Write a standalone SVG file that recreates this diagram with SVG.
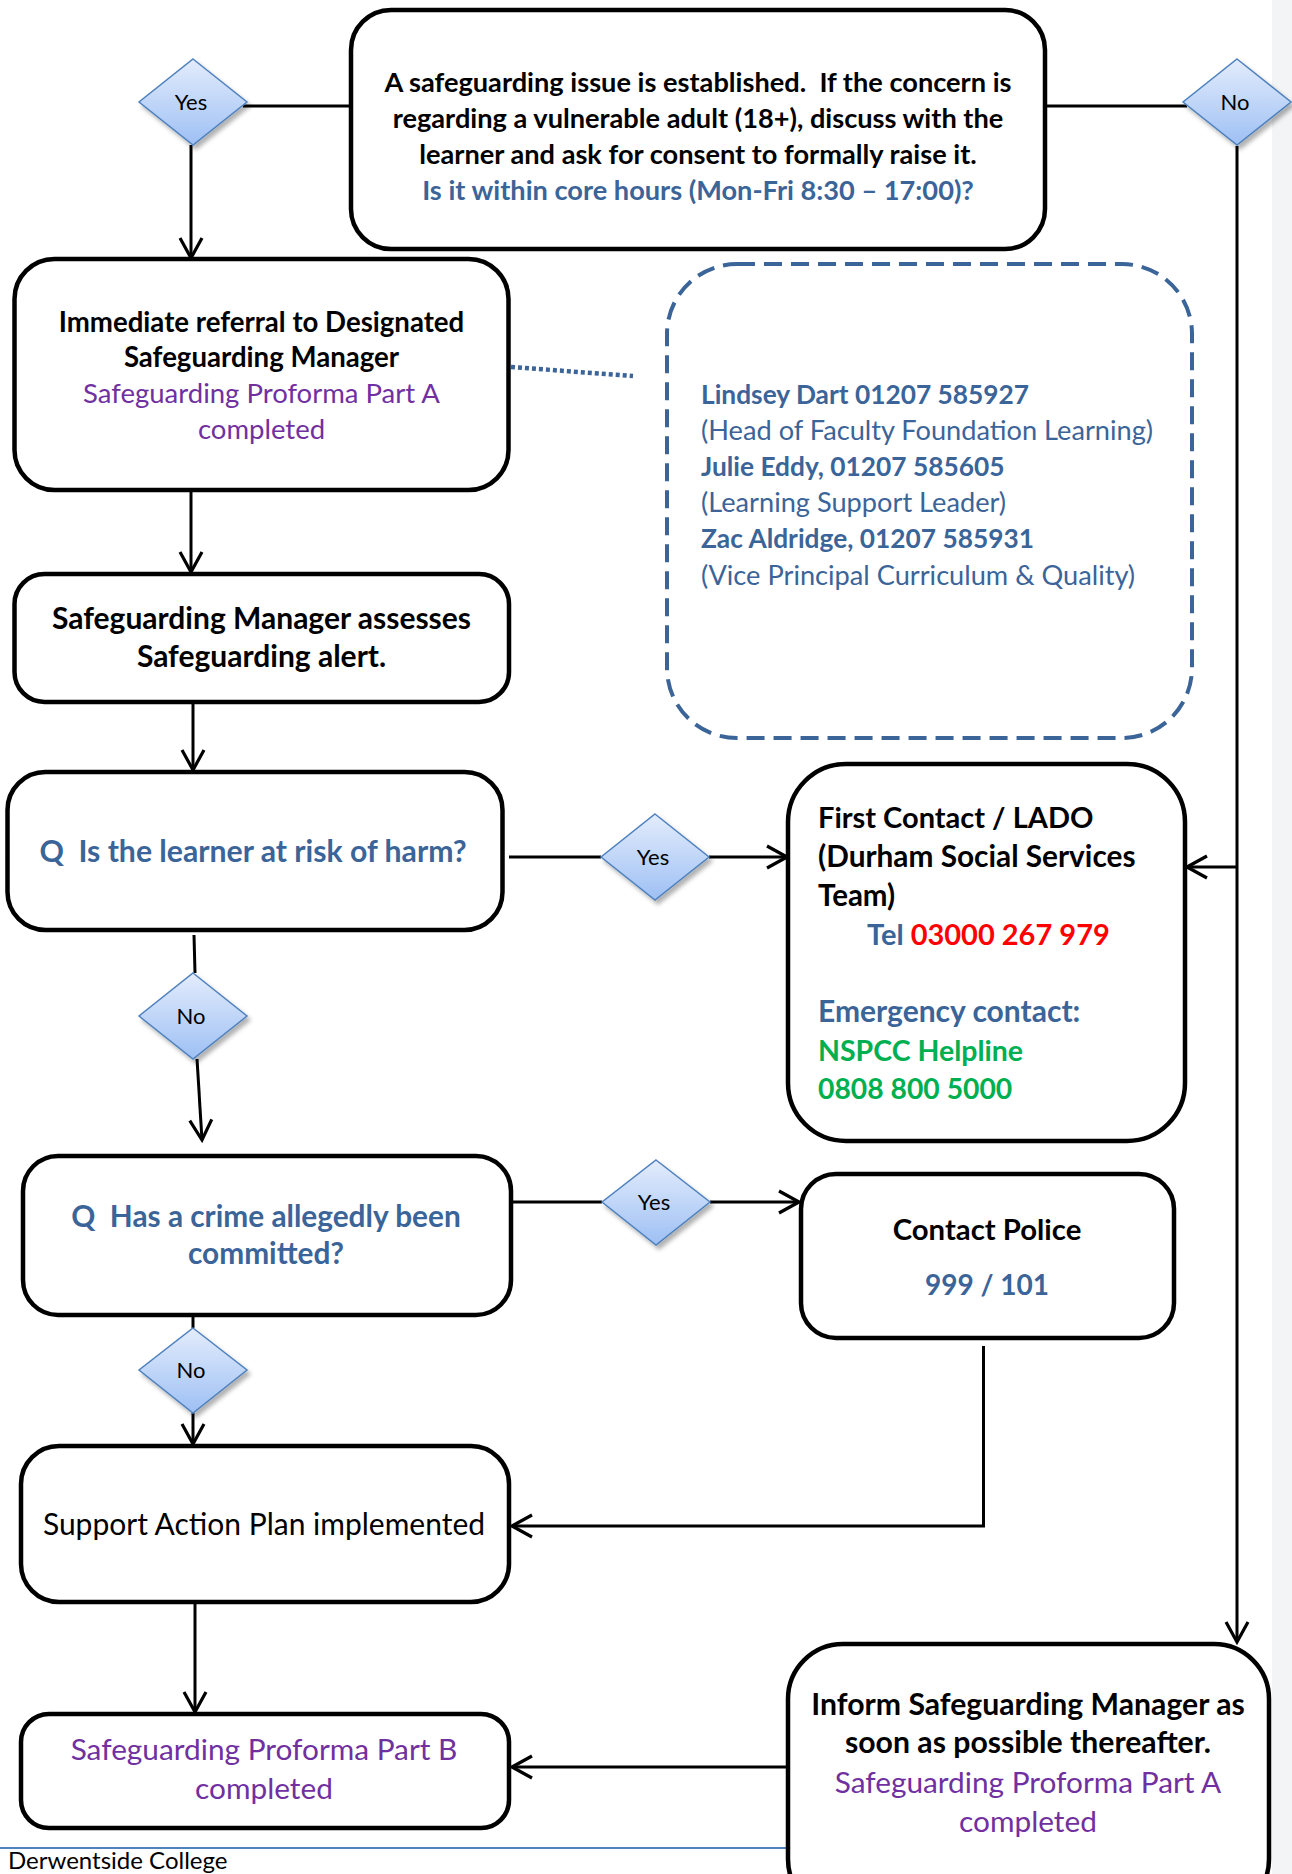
<svg xmlns="http://www.w3.org/2000/svg" width="1292" height="1874" viewBox="0 0 1292 1874">
<style>
.box{fill:#fff;stroke:#000;stroke-width:4.5}
.t{font-family:Lato,"Liberation Sans",sans-serif;white-space:pre}
.b{font-weight:700}
.c{text-anchor:middle}
.blu{fill:#3b6498}
.pur{fill:#7030a0}
.grn{fill:#00b050}
.red{fill:#ff0000}
.conn{stroke:#000;stroke-width:3;fill:none}
.arr{marker-end:url(#ah)}
.dia{fill:url(#dg);stroke:#4f81bd;stroke-width:1.5;filter:url(#sh)}
.dl{font-family:Lato,"Liberation Sans",sans-serif;font-size:22px;text-anchor:middle;fill:#000}
</style>
<defs>
<linearGradient id="dg" x1="0" y1="0" x2="0" y2="1">
<stop offset="0" stop-color="#e3ecfc"/>
<stop offset="1" stop-color="#9ec0f4"/>
</linearGradient>
<filter id="sh" x="-20%" y="-20%" width="150%" height="150%">
<feDropShadow dx="3" dy="4" stdDeviation="2" flood-color="#000" flood-opacity="0.3"/>
</filter>
<marker id="ah" markerUnits="userSpaceOnUse" markerWidth="26" markerHeight="28" viewBox="0 0 26 28" refX="23" refY="14" orient="auto">
<path d="M3,3 L23,14 L3,25" fill="none" stroke="#000" stroke-width="3.2"/>
</marker>
</defs>
<rect x="1272" y="0" width="20" height="1874" fill="#f3f4f6"/>
<line x1="0" y1="1848" x2="790" y2="1848" stroke="#4f81bd" stroke-width="2"/>
<text class="t" x="8" y="1869" font-size="24" fill="#000">Derwentside College</text>

<g id="connectors">
<line class="conn" x1="243" y1="106" x2="351" y2="106"/>
<line class="conn" x1="1045" y1="106" x2="1187" y2="106"/>
<line class="conn arr" x1="191" y1="145" x2="191" y2="258"/>
<line class="conn arr" x1="191" y1="490" x2="191" y2="572"/>
<line x1="511" y1="367" x2="633" y2="376" stroke="#3b6498" stroke-width="4.5" stroke-dasharray="4 3"/>
<line class="conn arr" x1="193" y1="702" x2="193" y2="770"/>
<line class="conn" x1="509" y1="857" x2="601" y2="857"/>
<line class="conn arr" x1="709" y1="857" x2="787" y2="857"/>
<line class="conn" x1="194" y1="935" x2="195" y2="973"/>
<line class="conn arr" x1="197" y1="1059" x2="202" y2="1140"/>
<line class="conn" x1="511" y1="1202" x2="602" y2="1202"/>
<line class="conn arr" x1="710" y1="1202" x2="799" y2="1202"/>
<line class="conn" x1="193" y1="1315" x2="193" y2="1328"/>
<line class="conn arr" x1="193" y1="1413" x2="193" y2="1444"/>
<polyline class="conn arr" points="983.5,1346 983.5,1526 512,1526"/>
<line class="conn arr" x1="195" y1="1602" x2="195" y2="1712"/>
<line class="conn arr" x1="788" y1="1767" x2="512" y2="1767"/>
<line class="conn arr" x1="1237" y1="146" x2="1237" y2="1642"/>
<line class="conn arr" x1="1237" y1="867" x2="1187" y2="867"/>
</g>

<g id="n-start">
<rect class="box" x="351" y="10" width="694" height="239" rx="40"/>
<text class="t b c" x="698" y="92" font-size="27.2">A safeguarding issue is established.  If the concern is</text>
<text class="t b c" x="698" y="128" font-size="27.2">regarding a vulnerable adult (18+), discuss with the</text>
<text class="t b c" x="698" y="164" font-size="27.2">learner and ask for consent to formally raise it.</text>
<text class="t b c blu" x="698" y="200" font-size="27.2">Is it within core hours (Mon-Fri 8:30 – 17:00)?</text>
</g>

<g id="d-yes1"><polygon class="dia" points="193,59 247,102 193,145 139,102"/><text class="dl" x="191" y="110">Yes</text></g>
<g id="d-no1"><polygon class="dia" points="1237,59 1291,102 1237,145 1183,102"/><text class="dl" x="1235" y="110">No</text></g>

<g id="n-immediate">
<rect class="box" x="14.5" y="259" width="494" height="231" rx="40"/>
<text class="t b c" x="261.5" y="332" font-size="27.6">Immediate referral to Designated</text>
<text class="t b c" x="261.5" y="367" font-size="27.6">Safeguarding Manager</text>
<text class="t c pur" x="261.5" y="403" font-size="27.5">Safeguarding Proforma Part A</text>
<text class="t c pur" x="261.5" y="439" font-size="27.5">completed</text>
</g>

<g id="n-contacts">
<rect x="667" y="264" width="525" height="474" rx="70" fill="none" stroke="#3b6498" stroke-width="4" stroke-dasharray="18 9"/>
<text class="t b blu" x="701" y="404" font-size="26.3">Lindsey Dart 01207 585927</text>
<text class="t blu" x="701" y="440" font-size="27.2">(Head of Faculty Foundation Learning)</text>
<text class="t b blu" x="701" y="476" font-size="26.3">Julie Eddy, 01207 585605</text>
<text class="t blu" x="701" y="512" font-size="27.2">(Learning Support Leader)</text>
<text class="t b blu" x="701" y="548" font-size="26.3">Zac Aldridge, 01207 585931</text>
<text class="t blu" x="701" y="585" font-size="27.2">(Vice Principal Curriculum &amp; Quality)</text>
</g>

<g id="n-assess">
<rect class="box" x="14.5" y="574" width="494.5" height="128" rx="30"/>
<text class="t b c" x="261.5" y="629" font-size="30">Safeguarding Manager assesses</text>
<text class="t b c" x="261.5" y="667" font-size="30">Safeguarding alert.</text>
</g>

<g id="n-harm">
<rect class="box" x="7.5" y="772" width="495" height="158" rx="38"/>
<text class="t b c blu" x="253" y="862" font-size="30.2">Q  Is the learner at risk of harm?</text>
</g>

<g id="d-yes2"><polygon class="dia" points="655,814 709,857 655,900 601,857"/><text class="dl" x="653" y="865">Yes</text></g>

<g id="n-firstcontact">
<rect class="box" x="788" y="764" width="397" height="377" rx="58"/>
<text class="t b" x="818" y="828" font-size="29">First Contact / LADO</text>
<text class="t b" x="818" y="867" font-size="29.8">(Durham Social Services</text>
<text class="t b" x="818" y="906" font-size="29.5">Team)</text>
<text class="t b" x="867" y="945" font-size="29"><tspan class="blu">Tel </tspan><tspan class="red">03000 267 979</tspan></text>
<text class="t b blu" x="818" y="1022" font-size="30">Emergency contact:</text>
<text class="t b grn" x="818" y="1061" font-size="28.5">NSPCC Helpline</text>
<text class="t b grn" x="818" y="1099" font-size="28.3">0808 800 5000</text>
</g>

<g id="d-no2"><polygon class="dia" points="193,973 247,1016 193,1059 139,1016"/><text class="dl" x="191" y="1024">No</text></g>

<g id="n-crime">
<rect class="box" x="23" y="1156" width="488" height="159" rx="35"/>
<text class="t b c blu" x="266" y="1227" font-size="29.8">Q  Has a crime allegedly been</text>
<text class="t b c blu" x="266" y="1264" font-size="29.8">committed?</text>
</g>

<g id="d-yes3"><polygon class="dia" points="656,1160 710,1202 656,1245 602,1202"/><text class="dl" x="654" y="1210">Yes</text></g>

<g id="n-police">
<rect class="box" x="801" y="1174" width="373" height="164" rx="35"/>
<text class="t b c" x="987" y="1240" font-size="29.3">Contact Police</text>
<text class="t b c blu" x="987" y="1295" font-size="28">999 / 101</text>
</g>

<g id="d-no3"><polygon class="dia" points="193,1328 247,1370 193,1413 139,1370"/><text class="dl" x="191" y="1378">No</text></g>

<g id="n-support">
<rect class="box" x="21" y="1446" width="488" height="156" rx="38"/>
<text class="t c" x="264" y="1535" font-size="30">Support Action Plan implemented</text>
</g>

<g id="n-partb">
<rect class="box" x="21" y="1714" width="488" height="114" rx="28"/>
<text class="t c pur" x="264" y="1760" font-size="29.8">Safeguarding Proforma Part B</text>
<text class="t c pur" x="264" y="1799" font-size="29.8">completed</text>
</g>

<g id="n-inform">
<rect class="box" x="788" y="1644" width="481" height="270" rx="55"/>
<text class="t b c" x="1028" y="1715" font-size="30.2">Inform Safeguarding Manager as</text>
<text class="t b c" x="1028" y="1753" font-size="30.2">soon as possible thereafter.</text>
<text class="t c pur" x="1028" y="1793" font-size="29.8">Safeguarding Proforma Part A</text>
<text class="t c pur" x="1028" y="1832" font-size="29.8">completed</text>
</g>
</svg>
